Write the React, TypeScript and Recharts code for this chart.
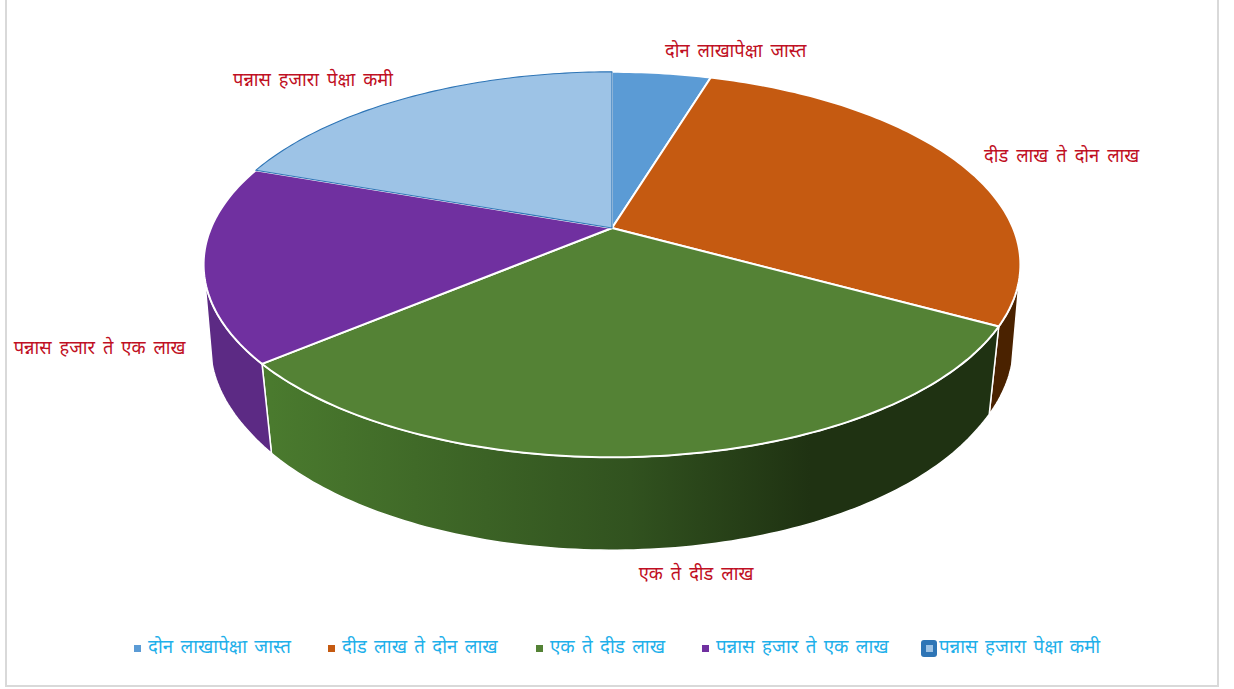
import React from "react";
import { PieChart, Pie, Legend } from "recharts";

const categories = [
  "दोन लाखापेक्षा जास्त",
  "दीड लाख ते दोन लाख",
  "एक ते दीड लाख",
  "पन्नास हजार ते एक लाख",
  "पन्नास हजारा पेक्षा कमी",
];
const shares = [4.7, 28.3, 30.9, 16.45, 19.65];
const topColors = ["#5b9bd5", "#c55a11", "#548235", "#7030a0", "#9dc3e6"];
const wallColors = ["#3f76ab", "#4a2200", "url(#greenWall)", "#5c2a84", "#7da3c8"];
const topStrokes = ["#ffffff", "#ffffff", "#ffffff", "#ffffff", "#2e75b6"];
const topStrokeWidths = [2, 2, 2, 2, 1.1];
const labelOffsets: [number, number][] = [
  [74, -21],
  [103, -5],
  [36, 120],
  [-104, 87],
  [-98, -15],
];

const data = categories.map((name, i) => ({
  name,
  value: shares[i],
  fill: topColors[i],
  wall: wallColors[i],
  edge: topStrokes[i],
  edgeWidth: topStrokeWidths[i],
}));

const FONT = '"Noto Sans Devanagari", "Lohit Devanagari", Mangal, "Noto Sans", sans-serif';
const PERSPECTIVE = 0.1896;
const FLATTEN = 0.4633;
const DEPTH = 88;
const RAD = Math.PI / 180;
const WALL_RIGHT = -15;
const WALL_LEFT = -165;

function project(cx: number, cy: number, r: number, angle: number): [number, number] {
  const u = Math.cos(angle * RAD);
  const v = -Math.sin(angle * RAD);
  const w = 1 - PERSPECTIVE * v;
  return [cx + (r * u) / w, cy + (r * FLATTEN * v) / w];
}

function lower(cx: number, p: [number, number]): [number, number] {
  const bulge = Math.min(1, Math.max(0, (345 - p[1]) / 80));
  const f = 0.973 + 0.01 * bulge;
  return [cx + (p[0] - cx) * f, p[1] + DEPTH + (p[1] - 327) * 0.038];
}

function arcPoints(cx: number, cy: number, r: number, start: number, end: number): [number, number][] {
  const n = Math.max(2, Math.ceil(Math.abs(end - start)));
  const pts: [number, number][] = [];
  for (let i = 0; i <= n; i++) {
    pts.push(project(cx, cy, r, start + ((end - start) * i) / n));
  }
  return pts;
}

const toPath = (pts: [number, number][]) =>
  pts.map((p, i) => `${i ? "L" : "M"}${p[0].toFixed(2)},${p[1].toFixed(2)}`).join(" ");

function TopFace(props: any) {
  const pts = arcPoints(props.cx, props.cy, props.outerRadius, props.startAngle, props.endAngle);
  const d = `M${props.cx},${props.cy} ${toPath(pts).replace("M", "L")} Z`;
  return <path d={d} fill={props.payload?.fill ?? props.fill} stroke={props.payload?.edge ?? "#fff"} strokeWidth={props.payload?.edgeWidth ?? 2} strokeLinejoin="round" />;
}

function WallFace(props: any) {
  const start = Math.min(props.startAngle, WALL_RIGHT);
  const end = Math.max(props.endAngle, WALL_LEFT);
  if (start <= end) return <g />;
  const pts = arcPoints(props.cx, props.cy, props.outerRadius, start, end);
  const low = pts.map((p) => lower(props.cx, p)).reverse();
  const d = `${toPath(pts)} ${toPath(low).replace("M", "L")} Z`;
  return <path d={d} fill={props.payload?.wall ?? props.wall} stroke="#ffffff" strokeWidth={1.5} strokeLinejoin="round" />;
}

function renderLabel(props: any) {
  const { cx, cy, outerRadius, midAngle, index } = props;
  const p = project(cx, cy, outerRadius, midAngle);
  const off = labelOffsets[index];
  return (
    <text x={p[0] + off[0]} y={p[1] + off[1]} textAnchor="middle" dominantBaseline="central" fill="#c00f23" fontSize={18.3} wordSpacing={3.2} fontFamily={FONT}>
      {categories[index]}
    </text>
  );
}

const legendStarts = [134, 328, 536, 702, 921];

function LegendContent(props: any) {
  const payload = props.payload ?? [];
  const items = categories.map((c) => payload.find((e: any) => e.value === c) ?? { value: c });
  return (
    <div style={{ position: "relative", width: 1234, height: 30, fontFamily: FONT, fontSize: 18.7, wordSpacing: 2.5, color: "#1fb0ea" }}>
      {items.map((e: any, i: number) => (
        <div key={e.value} style={{ position: "absolute", left: legendStarts[i], top: 0, height: 30, display: "flex", alignItems: "center", whiteSpace: "nowrap" }}>
          {i === 4 ? (
            <span style={{ width: 16, height: 17, marginRight: 2, borderRadius: 3, background: "#2e75b6", display: "flex", alignItems: "center", justifyContent: "center" }}>
              <span style={{ width: 7, height: 7, background: topColors[i] }} />
            </span>
          ) : (
            <span style={{ width: 7, height: 7, marginRight: 7, background: topColors[i] }} />
          )}
          <span>{e.value}</span>
        </div>
      ))}
    </div>
  );
}

export default function App() {
  return (
    <div style={{ position: "absolute", left: 0, top: 0, width: 1234, height: 689, background: "#fff", overflow: "hidden" }}>
      <div style={{ position: "absolute", left: 5, top: -4, width: 1210, height: 687, border: "2px solid #d9d9d9" }} />
      <div style={{ position: "absolute", left: 0, top: 0 }}>
        <PieChart width={1234} height={689} margin={{ top: 0, right: 0, bottom: 0, left: 0 }}>
          <defs>
            <linearGradient id="greenWall" gradientUnits="userSpaceOnUse" x1="271" y1="0" x2="990" y2="0">
              <stop offset="0" stopColor="#4a7a2e" />
              <stop offset="0.5" stopColor="#31521f" />
              <stop offset="0.75" stopColor="#1f3212" />
              <stop offset="1" stopColor="#1f3212" />
            </linearGradient>
          </defs>
          <Pie data={data} dataKey="value" nameKey="name" cx={612} cy={228} innerRadius={0} outerRadius={401} startAngle={90} endAngle={-270} isAnimationActive={false} legendType="none" stroke="none" shape={WallFace} />
          <Pie data={data} dataKey="value" nameKey="name" cx={612} cy={228} innerRadius={0} outerRadius={401} startAngle={90} endAngle={-270} isAnimationActive={false} shape={TopFace} label={renderLabel} labelLine={false} />
          <Legend content={LegendContent} wrapperStyle={{ position: "absolute", left: 0, top: 633, width: 1234 }} />
        </PieChart>
      </div>
    </div>
  );
}
